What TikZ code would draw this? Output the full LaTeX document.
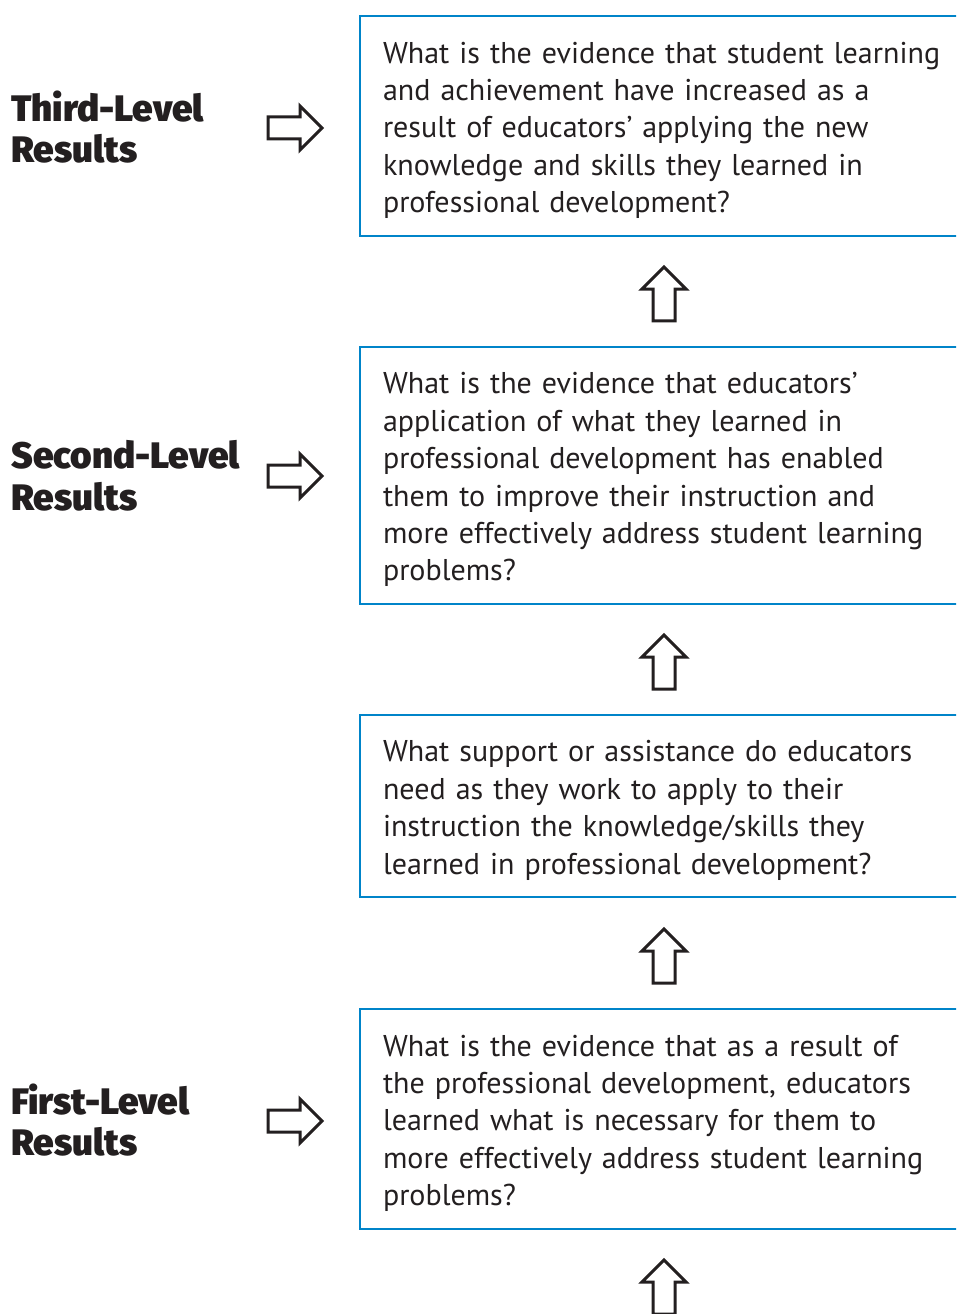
\documentclass[tikz,border=0pt]{standalone}
\usepackage{fontspec}
\setmainfont{PT Sans}
\newfontfamily\headfont{Fira Sans Black}
\usetikzlibrary{positioning,shapes.arrows}
\definecolor{boxblue}{RGB}{0,132,201}
\definecolor{inkgrey}{RGB}{35,31,32}

\begin{document}
\begin{tikzpicture}
  [x=0.02cm, y=-0.02cm, every node/.style={inner sep=0pt, text=inkgrey},
   level/.style={anchor=west, align=left, font=\headfont\fontsize{21pt}{23.8pt}\selectfont},
   question/.style={draw=boxblue, line width=0.04cm, anchor=west, text width=12.4cm, inner xsep=0.46cm, align=left, font=\fontsize{17.1pt}{21.3pt}\selectfont, execute at begin node={\rule{0pt}{17pt}}},
   blockarrow/.style={single arrow, draw=inkgrey, line width=0.06cm, inner sep=0.19cm, minimum height=1.08cm, single arrow head extend=0.22cm}]
  \useasboundingbox (0,0) rectangle (956,1314);
  \clip (0,0) rectangle (956,1314);

  \node[level] (l3) at (11,127) {Third-Level\\Results};
  \node[level] (l2) at (11,476) {Second-Level\\Results};
  \node[level] (l1) at (11,1120) {First-Level\\Results};

  \node[question, minimum height=4.4cm] (q3) at (359,126) {What is the evidence that student learning\\and achievement have increased as a\\result of educators' applying the new\\knowledge and skills they learned in\\professional development?};
  \node[question, minimum height=5.14cm] (q2) at (359,475.5) {What is the evidence that educators'\\application of what they learned in\\professional development has enabled\\them to improve their instruction and\\more effectively address student learning\\problems?};
  \node[question, minimum height=3.64cm] (qs) at (359,806) {What support or assistance do educators\\need as they work to apply to their\\instruction the knowledge/skills they\\learned in professional development?};
  \node[question, minimum height=4.4cm] (q1) at (359,1119) {What is the evidence that as a result of\\the professional development, educators\\learned what is necessary for them to\\more effectively address student learning\\problems?};

  \foreach \y/\name in {128/r3, 476/r2, 1121/r1}
    \node[blockarrow] (\name) at (289.5,\y) {};

  \foreach \y/\name in {299.5/u3, 667.5/u2, 961.5/us, 1292.5/u1}
    \node[blockarrow, shape border rotate=90] (\name) at (664,\y) {};
\end{tikzpicture}
\end{document}
